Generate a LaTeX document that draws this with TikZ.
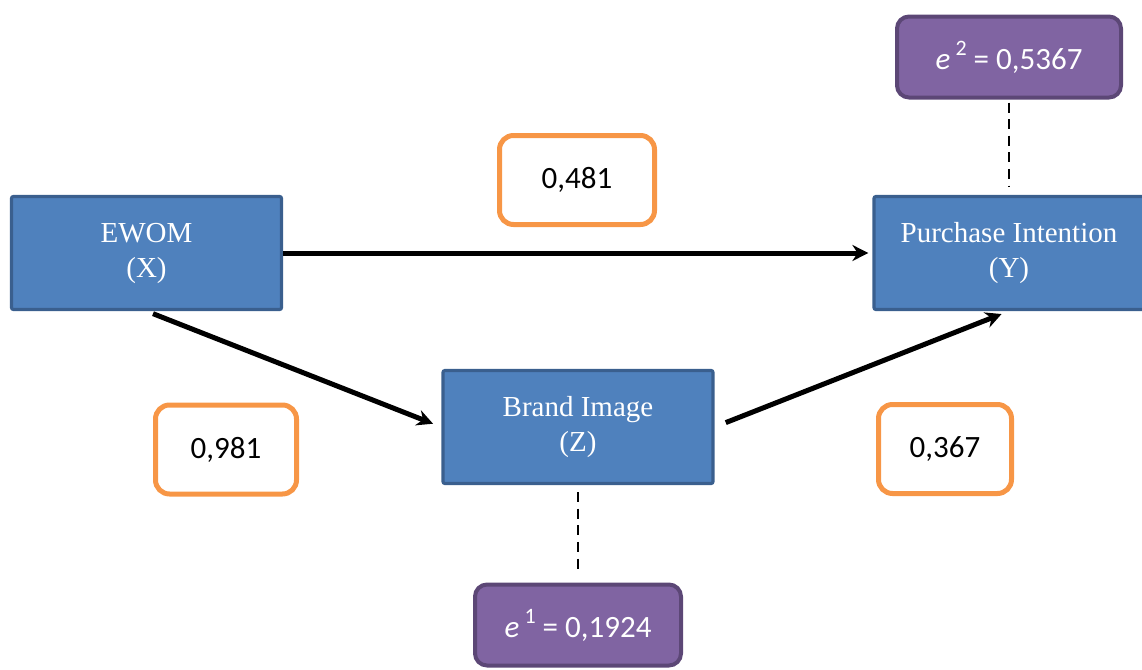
\documentclass[tikz,border=0pt]{standalone}
\usepackage{fontspec}
\setmainfont{Liberation Serif}
\newfontfamily\calibri{Carlito}
\usetikzlibrary{arrows.meta,positioning}
\definecolor{varfill}{HTML}{4F81BD}
\definecolor{varedge}{HTML}{3A5F8E}
\definecolor{coefedge}{HTML}{F79646}
\definecolor{errfill}{HTML}{8064A2}
\definecolor{erredge}{HTML}{5C4776}
\newcommand{\resid}[1]{\textit{e}\,\raisebox{0.45em}{\fontsize{11}{11}\selectfont #1}}

\begin{document}
\begin{tikzpicture}[>={Stealth[length=8pt,width=8pt]},x=0.5pt,y=-0.5pt,
  var/.style={draw=varedge,line width=1.6pt,fill=varfill,text=white,rounded corners=1pt,
    minimum width=135pt,minimum height=56.5pt,align=center,
    font=\fontsize{14.5}{17.5}\selectfont},
  coef/.style={draw=coefedge,line width=2.5pt,rounded corners=7pt,minimum height=44.5pt,
    font=\calibri\fontsize{15.5}{18}\selectfont},
  err/.style={draw=erredge,line width=2pt,fill=errfill,text=white,rounded corners=6pt,
    minimum height=40.5pt,font=\calibri\fontsize{15.5}{18}\selectfont},
  effect/.style={->,line width=2.5pt},
  errlink/.style={line width=1.1pt,dash pattern=on 5pt off 3.3pt}]
  \useasboundingbox (0,0) rectangle (1142,670);
  % variables
  \node[var] (ewom) at (146.5,253) {EWOM\\(X)};
  \node[var] (purchase) [right of=ewom,node distance=431.25pt] {Purchase Intention\\(Y)};
  \node[var] (brand) at (578,427) {Brand Image\\(Z)};
  % residuals
  \node[err,minimum width=112pt] (e2) [above of=purchase,node distance=98pt] {\resid{2} = 0,5367};
  \node[err,minimum width=103pt] (e1) [below of=brand,node distance=99pt] {\resid{1} = 0,1924};
  % path coefficients
  \node[coef,minimum width=77.5pt] (cxy) at (577,180) {0,481};
  \node[coef,minimum width=70.5pt] (cxz) at (226,449.5) {0,981};
  \node[coef,minimum width=66.5pt] (czy) at (945,449) {0,367};
  % paths
  \draw[effect,shorten >=2pt] (ewom.east) -- (purchase.west);
  \draw[effect,shorten <=3.5pt,shorten >=4.5pt] (ewom.south) -- (brand.west);
  \draw[effect,shorten <=6pt,shorten >=4pt] (brand.east) -- (purchase.south);
  \draw[errlink,shorten <=1.5pt,shorten >=4pt] (e2.south) -- (purchase.north);
  \draw[errlink,shorten <=3.5pt,shorten >=6pt] (brand.south) -- (e1.north);
\end{tikzpicture}
\end{document}
